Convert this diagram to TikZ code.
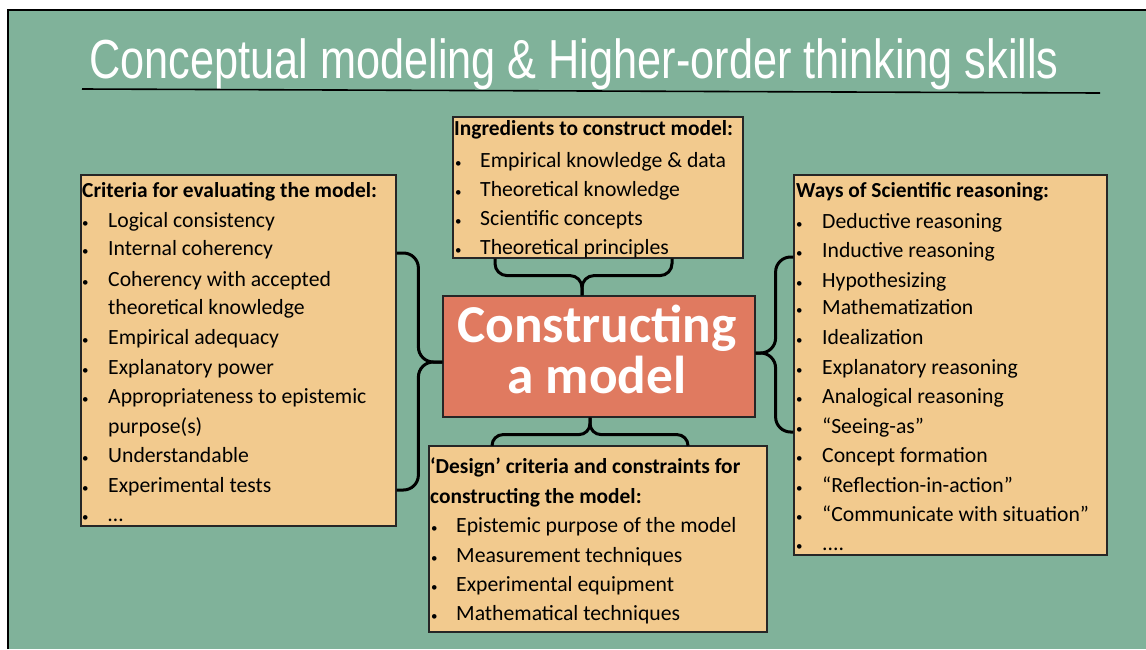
\documentclass[tikz,border=0pt]{standalone}
\usepackage{fontspec}
\setmainfont{Carlito}
\newfontfamily\titlefont[FakeStretch=0.787]{Liberation Sans}
\usetikzlibrary{positioning,calc}

\definecolor{slidegreen}{RGB}{128,178,154}
\definecolor{boxfill}{RGB}{242,202,142}
\definecolor{modelred}{RGB}{224,122,96}

\begin{document}
\begin{tikzpicture}[x=1pt, y=-1pt,
        listbox/.style={rectangle, draw=black!85, line width=1.2pt, fill=boxfill, inner sep=0pt},
        modelbox/.style={rectangle, draw=black!85, line width=1.2pt, fill=modelred, inner sep=0pt},
        head/.style={anchor=base west, inner sep=0pt, font=\fontsize{21.4}{24}\selectfont\bfseries},
        item/.style={anchor=base west, inner sep=0pt, font=\fontsize{21.7}{25}\selectfont},
        dot/.style={anchor=base west, inner sep=0pt, font=\fontsize{13}{15}\selectfont},
        bigword/.style={anchor=base, inner sep=0pt, text=white, font=\fontsize{53.3}{53}\selectfont\bfseries},
        brace/.style={line width=3pt, rounded corners=15pt}
    ]

    % Slide background
    \useasboundingbox (0,0) rectangle (1146,649);
    \fill[white] (0,0) rectangle (1146,649);
    \fill[slidegreen] (8,10) rectangle (1146,649);
    \draw[line width=1.5pt] (8,649) -- (8,10) -- (1146,10);

    % Title
    \node[anchor=base, inner sep=0pt, text=white, font=\fontsize{55}{55}\selectfont\titlefont] (title) at (574,78) {Conceptual modeling \& Higher-order thinking skills};
    \draw[line width=1.6pt] (82,89) -- (1100,93);

    % Boxes
    \node[listbox, minimum width=315, minimum height=351] (crit) at (238.5,350.5) {};
    \node[listbox, minimum width=290, minimum height=141] (ingr) at (598,187.5) {};
    \node[listbox, minimum width=313, minimum height=380] (ways) at (950.5,365) {};
    \node[listbox, minimum width=338, minimum height=186] (design) at (598,539) {};
    \node[modelbox, minimum width=312, minimum height=121] (model) at (599,356.5) {};

    % Centre text
    \node[bigword] (word1) at (597,342) {Constructing};
    \node[bigword] (word2) at (597,393) {a model};

    % Criteria for evaluating
    \node[head] (crithead) at (82,197) {Criteria for evaluating the model:};
    \foreach \y/\t [count=\i] in {227/Logical consistency, 255/Internal coherency,
            286/Coherency with accepted, 344/Empirical adequacy, 374/Explanatory power,
            403/Appropriateness to epistemic, 462/Understandable,
            492/Experimental tests, 521/{\ldots}} {
        \node[dot] (critdot\i) at (82,\y) {\textbullet};
        \node[item] (crititem\i) at (108,\y) {\t};
    }
    \node[item] (critmore1) at (108,314) {theoretical knowledge};
    \node[item] (critmore2) at (108,433) {purpose(s)};

    % Ingredients
    \node[head] (ingrhead) at (454,135) {Ingredients to construct model:};
    \foreach \y/\t [count=\i] in {167/Empirical knowledge \& data, 196/Theoretical knowledge,
            225/Scientific concepts, 254/Theoretical principles} {
        \node[dot] (ingrdot\i) at (455,\y) {\textbullet};
        \node[item] (ingritem\i) at (480,\y) {\t};
    }

    % Ways of reasoning
    \node[head] (wayshead) at (796,197) {Ways of Scientific reasoning:};
    \foreach \y/\t [count=\i] in {228/Deductive reasoning, 257/Inductive reasoning,
            287/Hypothesizing, 314/Mathematization, 344/Idealization,
            374/Explanatory reasoning, 403/Analogical reasoning, 433/“Seeing-as”,
            462/Concept formation, 492/“Reflection-in-action”,
            521/“Communicate with situation”, 550/{.{}.{}.{}.}} {
        \node[dot] (waysdot\i) at (796,\y) {\textbullet};
        \node[item] (waysitem\i) at (822,\y) {\t};
    }

    % Design criteria
    \node[head] (designhead1) at (430,473) {‘Design’ criteria and constraints for};
    \node[head] (designhead2) at (430,503) {constructing the model:};
    \foreach \y/\t [count=\i] in {532/Epistemic purpose of the model, 562/Measurement techniques,
            591/Experimental equipment, 620/Mathematical techniques} {
        \node[dot] (designdot\i) at (431,\y) {\textbullet};
        \node[item] (designitem\i) at (456,\y) {\t};
    }

    % Braces
    \draw[brace, rounded corners=12pt] ([xshift=-103pt]ingr.south) -- ++(0,17) -| ([xshift=-17pt]model.north);
    \draw[brace, rounded corners=12pt] ([xshift=74pt]ingr.south) -- ++(0,17) -| ([xshift=-17pt]model.north);
    \draw[brace, rounded corners=11pt] ([xshift=-9pt]model.south) -- ++(0,17) -| ([xshift=-106pt]design.north);
    \draw[brace, rounded corners=11pt] ([xshift=-9pt]model.south) -- ++(0,17) -| ([xshift=90pt]design.north);
    \draw[brace] ([yshift=-5.5pt]model.west) -- ++(-24,0) |- ([yshift=97.5pt]crit.east);
    \draw[brace] ([yshift=-5.5pt]model.west) -- ++(-24,0) |- ([yshift=-139.5pt]crit.east);
    \draw[brace] ([yshift=3.5pt]model.east) -- ++(20,0) |- ([yshift=108pt]ways.west);
    \draw[brace] ([yshift=3.5pt]model.east) -- ++(20,0) |- ([yshift=-67pt]ways.west);

\end{tikzpicture}
\end{document}
